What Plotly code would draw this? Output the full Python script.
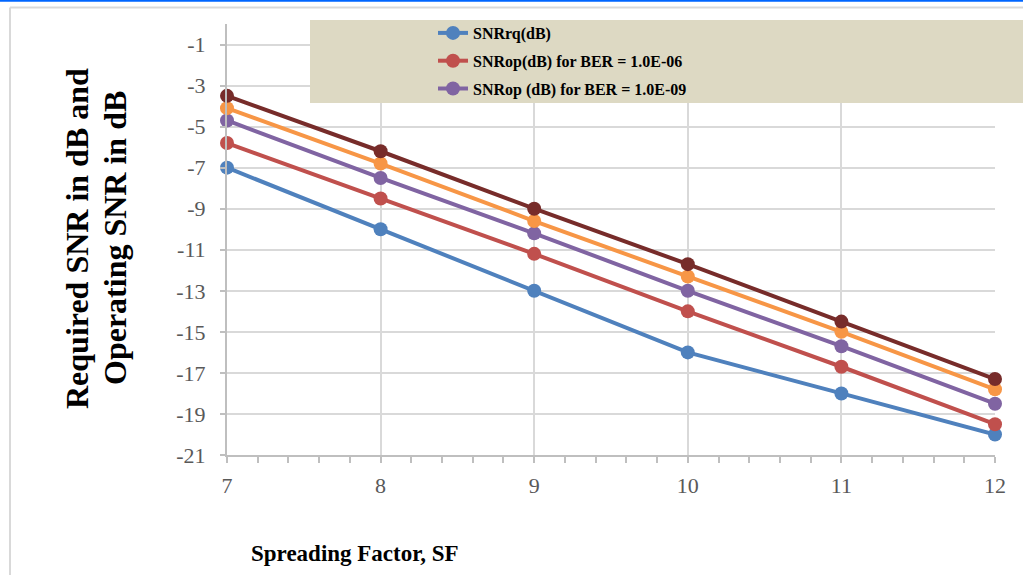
import plotly.graph_objects as go

sf = [7, 8, 9, 10, 11, 12]
snr_rq = [-7, -10, -13, -16, -18, -20]
snr_op_6 = [-5.8, -8.5, -11.2, -14.0, -16.7, -19.5]
snr_op_9 = [-4.7, -7.5, -10.2, -13.0, -15.7, -18.5]
snr_op_orange = [-4.1, -6.8, -9.6, -12.3, -15.0, -17.8]
snr_op_dark = [-3.5, -6.2, -9.0, -11.7, -14.5, -17.3]
y_ticks = [-21, -19, -17, -15, -13, -11, -9, -7, -5, -3, -1]

series = [
    ("SNRrq(dB)", snr_rq, "#4f81bd", True),
    ("SNRop(dB) for BER = 1.0E-06", snr_op_6, "#c0504d", True),
    ("SNRop (dB) for BER = 1.0E-09", snr_op_9, "#8064a2", True),
    ("SNRop series 4", snr_op_orange, "#f79646", False),
    ("SNRop series 5", snr_op_dark, "#772c2a", False),
]

W, H = 1023, 575
L, R, T, B = 227, 28, 24, 120
pw, ph = W - L - R, H - T - B


def px(xp):
    return (xp - L) / pw


def py(yp):
    return (H - B - yp) / ph


fig = go.Figure()
for i, (name, vals, col, show) in enumerate(series):
    fig.add_trace(go.Scatter(
        x=sf, y=vals, name=name, mode="lines+markers",
        line=dict(color=col, width=4),
        marker=dict(color=col, size=14),
        cliponaxis=False, showlegend=show, legendgroup=f"g{i}",
    ))

serif = "Liberation Serif"
fig.update_layout(
    width=W, height=H,
    margin=dict(l=L, r=R, t=T, b=B),
    paper_bgcolor="white", plot_bgcolor="white",
    showlegend=True,
    legend=dict(
        x=px(433), y=py(16), xanchor="left", yanchor="top",
        bgcolor="rgba(0,0,0,0)", tracegroupgap=4,
        font=dict(family=serif, size=16, color="#000000", weight="bold"),
    ),
    xaxis=dict(
        range=[7, 12], tickvals=sf, ticktext=[str(v) for v in sf],
        showgrid=True, gridcolor="#d9d9d9", gridwidth=1.5,
        showline=True, linecolor="#bfbfbf", linewidth=2,
        ticks="outside", ticklen=6, tickcolor="#bfbfbf", tickwidth=1.5,
        minor=dict(dtick=0.2, ticks="outside", ticklen=6, tickcolor="#bfbfbf", tickwidth=1.5, showgrid=False),
        tickfont=dict(family=serif, size=22, color="#595959"),
        ticklabelstandoff=4, zeroline=False,
    ),
    yaxis=dict(
        range=[-21, 0], tickvals=y_ticks, ticktext=["-" + str(abs(v)) for v in y_ticks],
        showgrid=True, gridcolor="#d9d9d9", gridwidth=1.5,
        showline=True, linecolor="#bfbfbf", linewidth=2,
        ticks="outside", ticklen=5, tickcolor="#bfbfbf", tickwidth=1.5,
        tickfont=dict(family=serif, size=22, color="#595959"),
        ticklabelstandoff=10, zeroline=False,
    ),
    shapes=[
        dict(type="rect", xref="paper", yref="paper", x0=px(310), x1=px(1030), y0=py(103), y1=py(20),
             fillcolor="#ddd9c3", line=dict(width=0), layer="above"),
        dict(type="line", xref="paper", yref="paper", x0=px(10), x1=px(1030), y0=py(7.5), y1=py(7.5),
             line=dict(color="#d9d9d9", width=2)),
        dict(type="line", xref="paper", yref="paper", x0=px(10), x1=px(10), y0=py(7.5), y1=py(580),
             line=dict(color="#d9d9d9", width=2)),
        dict(type="line", xref="paper", yref="paper", x0=px(-5), x1=px(1030), y0=py(0.8), y1=py(0.8),
             line=dict(color="#0066ff", width=2)),
    ],
    annotations=[
        dict(text="Required SNR in dB and", textangle=-90, xref="paper", yref="paper",
             x=px(77), y=py(239), xanchor="center", yanchor="middle", showarrow=False,
             font=dict(family=serif, size=32, color="#000000", weight="bold")),
        dict(text="Operating SNR in dB", textangle=-90, xref="paper", yref="paper",
             x=px(115), y=py(238), xanchor="center", yanchor="middle", showarrow=False,
             font=dict(family=serif, size=32, color="#000000", weight="bold")),
        dict(text="Spreading Factor, SF", xref="paper", yref="paper",
             x=px(355), y=py(553), xanchor="center", yanchor="middle", showarrow=False,
             font=dict(family=serif, size=23, color="#000000", weight="bold")),
    ],
)

fig.write_html("out.html")
